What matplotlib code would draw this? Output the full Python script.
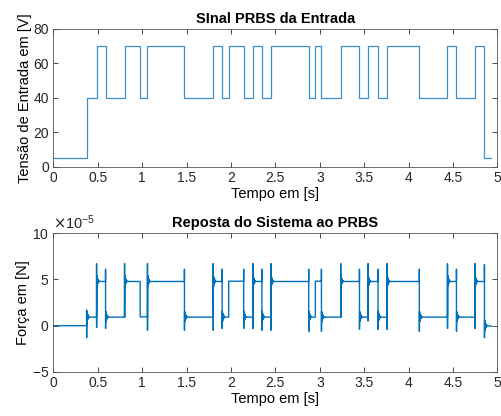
import numpy as np
import matplotlib
matplotlib.use("Agg")
from matplotlib import pyplot as plt
from matplotlib.ticker import ScalarFormatter

# switching instants of the PRBS (s) and the input voltage after each one (V)
t_switch = [0.375, 0.487, 0.588, 0.802, 0.978, 1.06, 1.476, 1.80, 1.90, 1.974,
            2.143, 2.247, 2.348, 2.45, 2.875, 2.95, 3.018, 3.235, 3.446, 3.543,
            3.655, 3.757, 4.12, 4.437, 4.538, 4.747, 4.853]
v_after = [40, 70, 40, 70, 40, 70, 40, 70, 40, 70,
           40, 70, 40, 70, 40, 70, 40, 70, 40, 70,
           40, 70, 40, 70, 40, 70, 5]
v_start = 5
t_end = 4.93

# steady force (x1e-5 N) for each input level
force_level = {5: 0.0, 40: 0.95, 70: 4.8}

# peak / valley of the transient at each switch (x1e-5 N), None = no spike
spike_hi = [1.7, 6.7, 6.1, 6.7, None, 6.7, 6.1, 6.7, 6.1, None,
            6.1, 6.7, 6.1, 6.7, 6.1, None, 6.1, 6.7, 6.1, 6.7,
            6.1, 6.7, 6.1, 6.7, 6.1, 6.7, 6.6]
spike_lo = [-1.3, -0.2, -0.3, 0.9, None, -0.5, -0.5, -0.5, -0.3, None,
            -0.3, -0.3, -0.5, -0.5, -0.65, None, -0.6, 0.9, -0.4, 0.5,
            -0.4, -0.4, -0.6, -0.3, -0.6, -0.3, -1.3]
# decaying ringing around the new level after a spike (x1e-5 N)
ring = [0.6, -0.5, 0.4, -0.32, 0.25, -0.18, 0.12, -0.08, 0.05, -0.03]

# input signal (staircase)
tv = [0.0]
vv = [v_start]
for ts, v in zip(t_switch, v_after):
    tv += [ts, ts]
    vv += [vv[-1], v]
tv.append(t_end)
vv.append(vv[-1])

# force response
tf = [0.0]
ff = [force_level[v_start]]
for i, (ts, v) in enumerate(zip(t_switch, v_after)):
    new = force_level[v]
    tf.append(ts)
    ff.append(ff[-1])
    if spike_hi[i] is not None:
        tf += [ts, ts + 0.0005]
        ff += [spike_hi[i], spike_lo[i]]
        for k, a in enumerate(ring):
            tf.append(ts + 0.002 + 0.003 * k)
            ff.append(new + a)
    else:
        tf.append(ts)
        ff.append(new)
tf.append(t_end)
ff.append(ff[-1])
ff = np.array(ff) * 1e-5

plt.rcParams['font.family'] = ['Liberation Sans', 'DejaVu Sans']
plt.rcParams['axes.unicode_minus'] = False
line_col = '#0072BD'
ax_col = '#262626'

fig = plt.figure(figsize=(5.01, 4.16), dpi=100)
ax1 = fig.add_axes([0.1064, 0.5986, 0.8866, 0.3317])
ax2 = fig.add_axes([0.1064, 0.1058, 0.8866, 0.3340])

ax1.plot(tv, vv, color='#3a8fd0', lw=0.9)
ax1.set_xlim(0, 5)
ax1.set_ylim(0, 80)
ax1.set_yticks([0, 20, 40, 60, 80])
ax1.set_title('SInal PRBS da Entrada', fontsize=10.5, fontweight='bold', pad=4)
ax1.set_xlabel('Tempo em [s]', fontsize=10.5, labelpad=1)
ax1.set_ylabel('Tensão de Entrada em [V]', fontsize=10.5, labelpad=1)

ax2.plot(tf, ff, color=line_col, lw=1.0)
ax2.set_xlim(0, 5)
ax2.set_ylim(-5e-5, 10e-5)
ax2.set_yticks([-5e-5, 0, 5e-5, 10e-5])
fmt = ScalarFormatter(useMathText=True)
fmt.set_powerlimits((-5, -5))
ax2.yaxis.set_major_formatter(fmt)
ax2.set_title('Reposta do Sistema ao PRBS', fontsize=10.5, fontweight='bold', pad=4)
ax2.set_xlabel('Tempo em [s]', fontsize=10.5, labelpad=1)
ax2.set_ylabel('Força em [N]', fontsize=10.5, labelpad=1)

for ax in (ax1, ax2):
    ax.set_xticks(np.arange(0, 5.01, 0.5))
    ax.set_xticklabels(['0', '0.5', '1', '1.5', '2', '2.5', '3', '3.5', '4', '4.5', '5'])
    ax.tick_params(direction='in', top=True, right=True, length=3.5, width=0.6,
                   colors=ax_col, labelsize=10, pad=3)
    for s in ax.spines.values():
        s.set_color('#555555')
        s.set_linewidth(0.6)
ax2.yaxis.get_offset_text().set_fontsize(10.5)
ax2.yaxis.get_offset_text().set_color(ax_col)

fig.savefig('out.png', dpi=100)
